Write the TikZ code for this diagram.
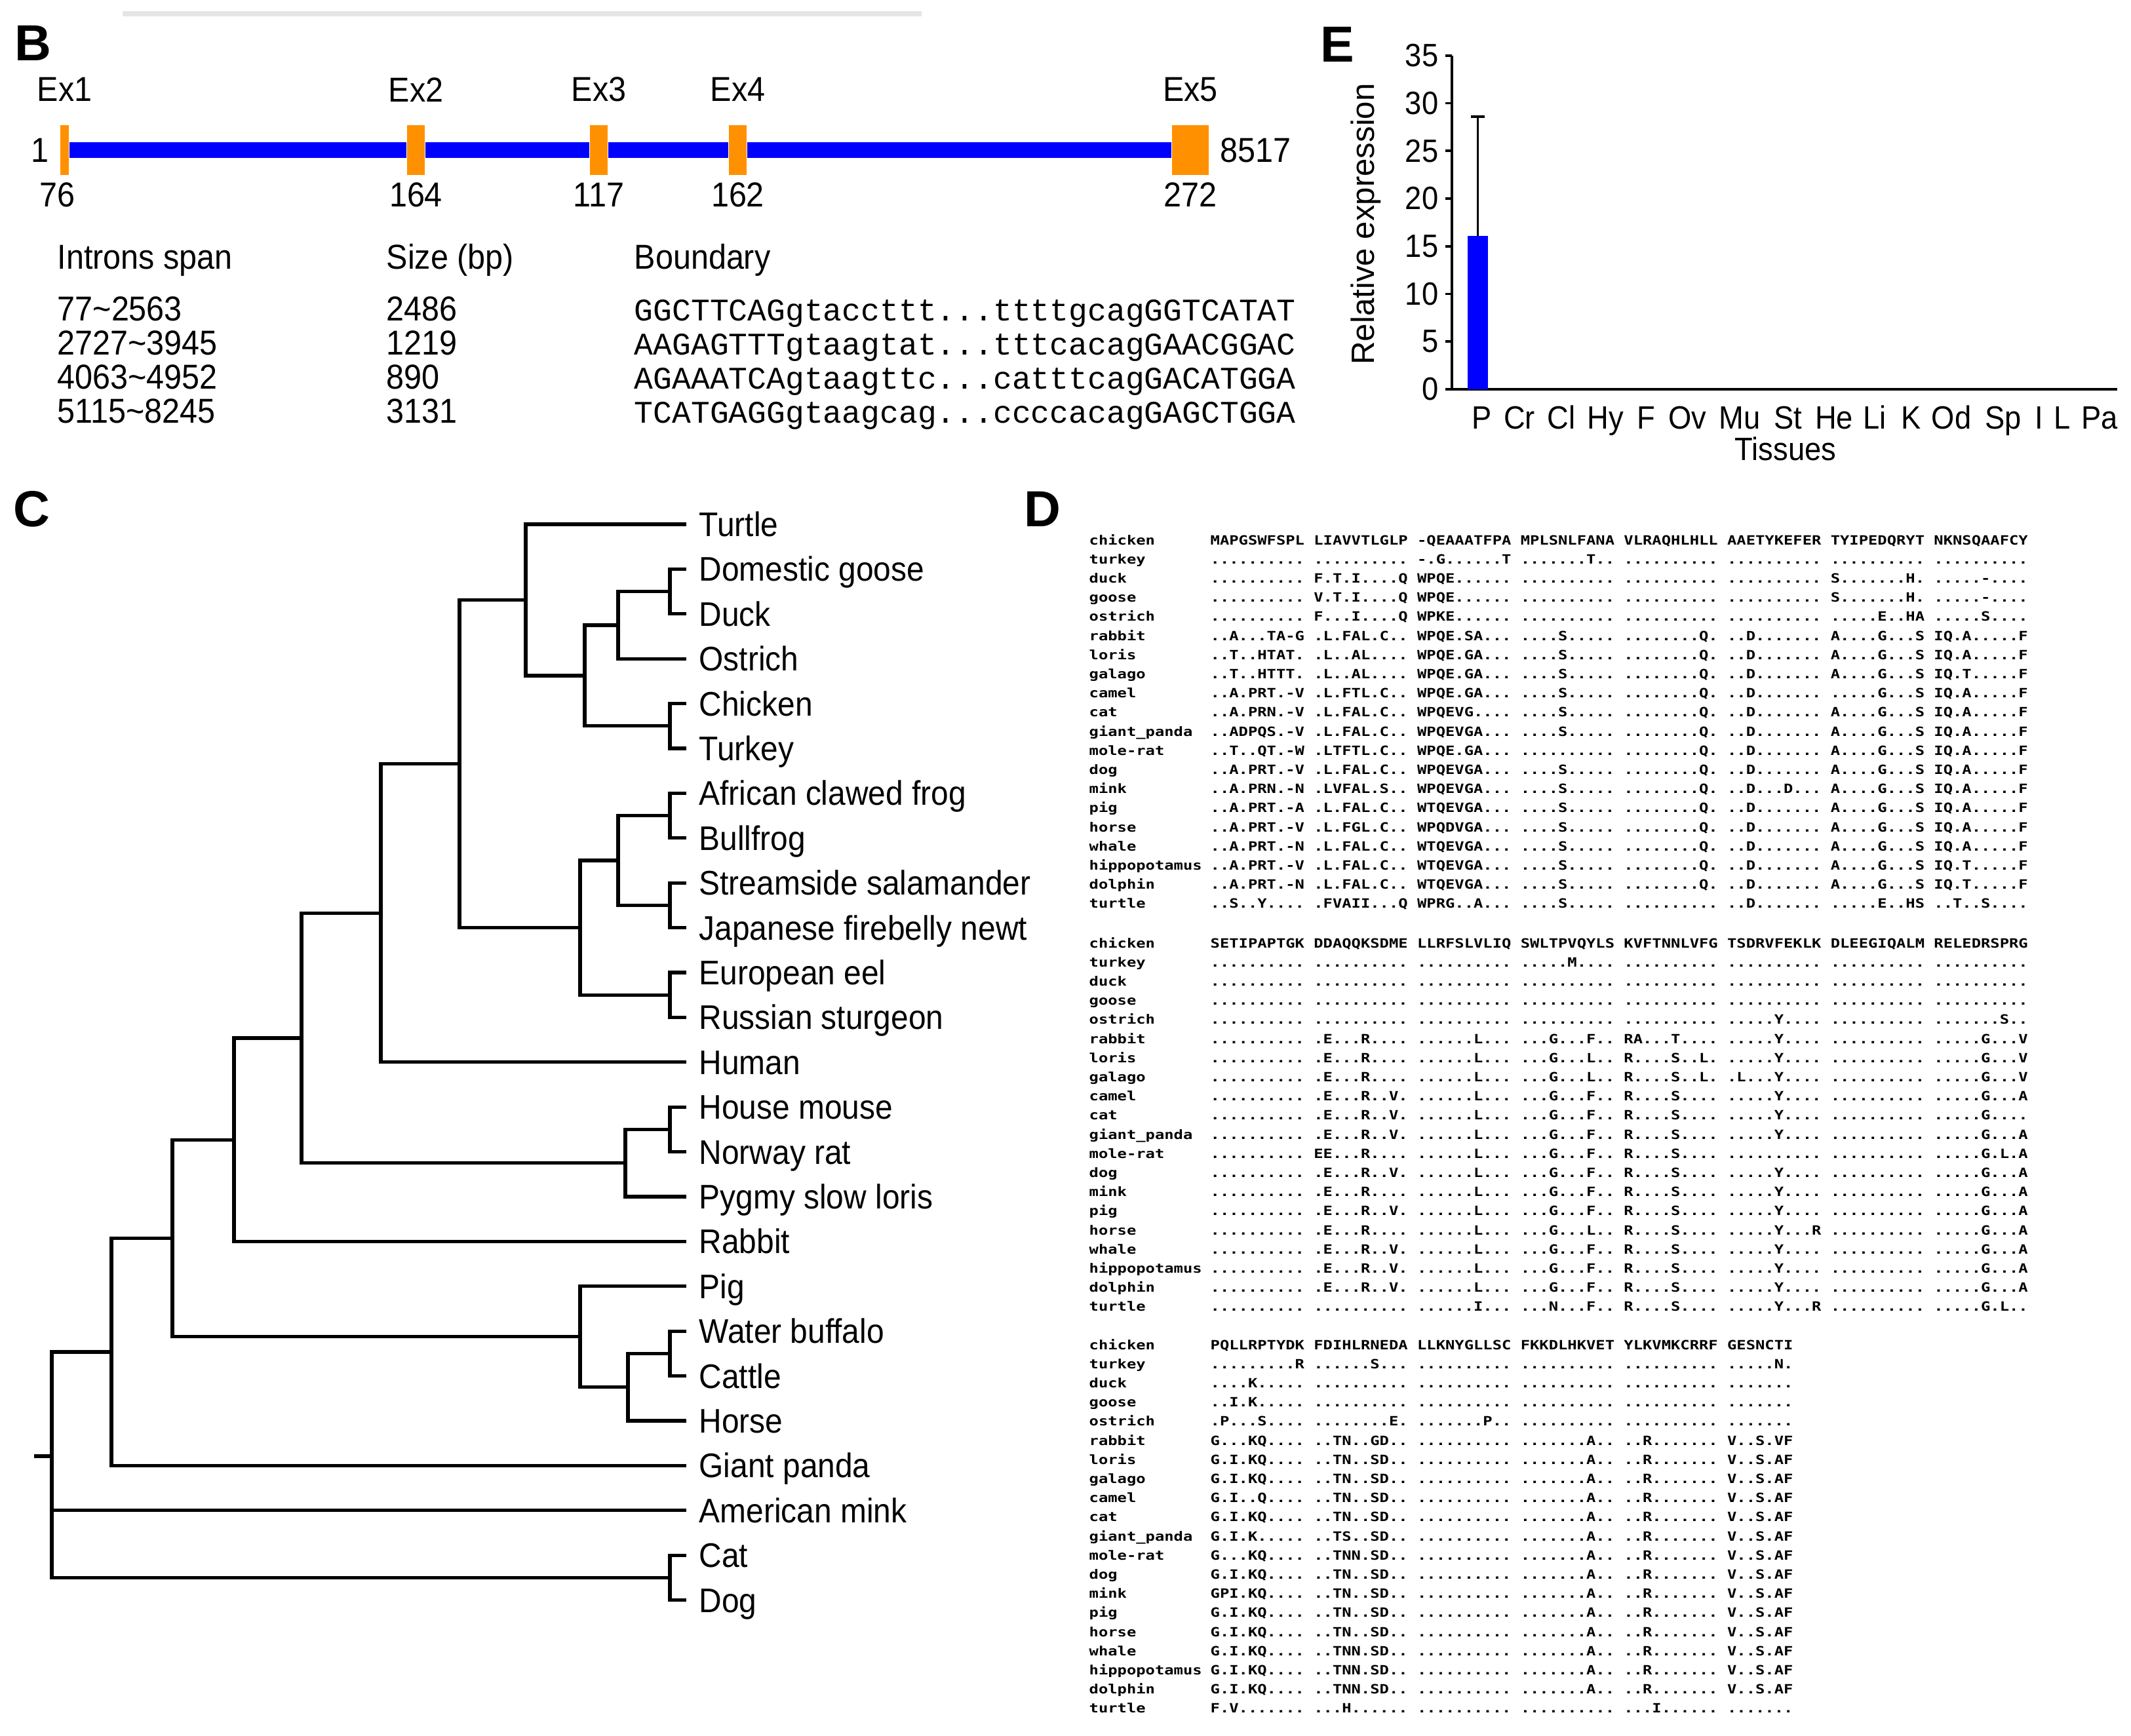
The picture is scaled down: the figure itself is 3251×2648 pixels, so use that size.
\documentclass[tikz,border=0pt]{standalone}
\usepackage{fontspec}
\setmainfont{Liberation Sans}
\newfontfamily\narrowsf[FakeStretch=0.92]{Liberation Sans}
\newfontfamily\courfont{Liberation Mono}
\newfontfamily\alnfont[FakeStretch=1.22]{DejaVu Sans Mono Bold}
\usetikzlibrary{calc}
\definecolor{exorange}{RGB}{255,145,0}
\definecolor{exblue}{RGB}{0,0,255}
\frenchspacing

\begin{document}
\begin{tikzpicture}[x=0.01cm, y=-0.01cm,
panel/.style={font=\bfseries\fontsize{22}{26}\selectfont, inner sep=0},
btxt/.style={font=\narrowsf\fontsize{15}{18}\selectfont, inner sep=0},
bseq/.style={font=\courfont\fontsize{13.66}{16}\selectfont, inner sep=0, anchor=base west},
exon/.style={fill=exorange, inner sep=0, minimum height=0.75cm},
intron/.style={draw=exblue, line width=0.24cm},
leaf/.style={anchor=west, inner xsep=0.19cm, inner ysep=0, text height=0.37cm, text depth=0cm, font=\narrowsf\fontsize{14.8}{17}\selectfont},
branch/.style={line width=1.5pt},
aln/.style={anchor=west, inner sep=0, text height=4pt, text depth=0pt, font=\alnfont\fontsize{5.55}{6}\selectfont\frenchspacing},
axis/.style={line width=1.1pt},
etxt/.style={font=\narrowsf\fontsize{14}{17}\selectfont, inner sep=0}]
	\useasboundingbox (0,0) rectangle (3251,2648);
	\draw[line width=0.08cm, gray!20] (187,21) -- (1406,21);
	\node[panel] (pB) at (50,66) {B};
	\node[panel] (pC) at (48,777) {C};
	\node[panel] (pD) at (1590,777) {D};
	\node[panel] (pE) at (2040,68) {E};

	% gene structure
	\node[exon, minimum width=0.13cm] (ex1) at (98.5,229) {};
	\node[exon, minimum width=0.27cm] (ex2) at (634.5,229) {};
	\node[exon, minimum width=0.27cm] (ex3) at (913.5,229) {};
	\node[exon, minimum width=0.27cm] (ex4) at (1125.5,229) {};
	\node[exon, minimum width=0.56cm] (ex5) at (1816,229) {};
	\draw[intron] (ex1.east) -- (ex2.west);
	\draw[intron] (ex2.east) -- (ex3.west);
	\draw[intron] (ex3.east) -- (ex4.west);
	\draw[intron] (ex4.east) -- (ex5.west);
	\node[btxt] at ([yshift=0.54cm]ex1.north) (lex1) {Ex1};
	\node[btxt] at ([yshift=0.54cm]ex2.north) (lex2) {Ex2};
	\node[btxt] at ([yshift=0.54cm]ex3.north) (lex3) {Ex3};
	\node[btxt] at ([yshift=0.54cm]ex4.north) (lex4) {Ex4};
	\node[btxt] at ([yshift=0.54cm]ex5.north) (lex5) {Ex5};
	\node[btxt] at ([xshift=-0.11cm, yshift=-0.30cm]ex1.south) (len1) {76};
	\node[btxt] at ([yshift=-0.30cm]ex2.south) (len2) {164};
	\node[btxt] at ([yshift=-0.30cm]ex3.south) (len3) {117};
	\node[btxt] at ([yshift=-0.30cm]ex4.south) (len4) {162};
	\node[btxt] at ([yshift=-0.30cm]ex5.south) (len5) {272};
	\node[btxt] at ([xshift=-0.3cm]ex1.west) (gstart) {1};
	\node[btxt, anchor=west] at ([xshift=0.16cm]ex5.east) (gend) {8517};

	\node[btxt, anchor=base west] (hspan) at (87,410) {Introns span};
	\node[btxt, anchor=base west] (hsize) at (589,410) {Size (bp)};
	\node[btxt, anchor=base west] (hbound) at (967,410) {Boundary};
	\foreach \sp/\sz/\bd [count=\r from 0] in {77\textasciitilde 2563/2486/{GGCTTCAGgtaccttt...ttttgcagGGTCATAT},
		2727\textasciitilde 3945/1219/{AAGAGTTTgtaagtat...tttcacagGAACGGAC},
		4063\textasciitilde 4952/890/{AGAAATCAgtaagttc...catttcagGACATGGA},
		5115\textasciitilde 8245/3131/{TCATGAGGgtaagcag...ccccacagGAGCTGGA}}{
		\node[btxt, anchor=base west] (span\r) at (87,{489+52*\r}) {\sp};
		\node[btxt, anchor=base west] (size\r) at (589,{489+52*\r}) {\sz};
		\node[bseq] (bound\r) at (967,{489+52*\r}) {\bd};
	}

	% expression chart
	\draw[axis] (2215,85) -- (2215,594) -- (3230,594);
	\foreach \v in {0,5,10,15,20,25,30,35}{
		\draw[axis] (2205,{594-14.55*\v}) -- (2215,{594-14.55*\v});
		\node[etxt, anchor=east] (yt\v) at (2195,{594-14.55*\v}) {\v};
	}
	\fill[exblue] (2239,594) rectangle (2270,360);
	\draw[axis] (2254.5,360) -- (2254.5,178);
	\draw[axis] (2244,178) -- (2265,178);
	\foreach \lab/\xx [count=\k] in {P/2261, Cr/2318, Cl/2382, Hy/2449, F/2511, Ov/2574, Mu/2654, St/2728, He/2798, Li/2860, K/2916, Od/2977, Sp/3056, I/3111, L/3146, Pa/3203}
		\node[etxt, anchor=base] (tis\k) at (\xx,654) {\lab};
	\node[etxt, anchor=base] (xlab) at (2724,702) {Tissues};
	\node[rotate=90, inner sep=0, font=\fontsize{14}{17}\selectfont] (ylab) at (2084,342) {Relative expression};

	% tree
	\node[leaf] (turtle) at (1047,800) {Turtle};
	\node[leaf] (goose) at (1047,868.4) {Domestic goose};
	\node[leaf] (duck) at (1047,936.8) {Duck};
	\node[leaf] (ostrich) at (1047,1005.2) {Ostrich};
	\node[leaf] (chicken) at (1047,1073.6) {Chicken};
	\node[leaf] (turkey) at (1047,1142) {Turkey};
	\node[leaf] (xenopus) at (1047,1210.4) {African clawed frog};
	\node[leaf] (bullfrog) at (1047,1278.8) {Bullfrog};
	\node[leaf] (salam) at (1047,1347.2) {Streamside salamander};
	\node[leaf] (newt) at (1047,1415.6) {Japanese firebelly newt};
	\node[leaf] (eel) at (1047,1484) {European eel};
	\node[leaf] (sturgeon) at (1047,1552.4) {Russian sturgeon};
	\node[leaf] (human) at (1047,1620.8) {Human};
	\node[leaf] (mouse) at (1047,1689.2) {House mouse};
	\node[leaf] (rat) at (1047,1757.6) {Norway rat};
	\node[leaf] (loris) at (1047,1826) {Pygmy slow loris};
	\node[leaf] (rabbit) at (1047,1894.4) {Rabbit};
	\node[leaf] (pig) at (1047,1962.8) {Pig};
	\node[leaf] (buffalo) at (1047,2031.2) {Water buffalo};
	\node[leaf] (cattle) at (1047,2099.6) {Cattle};
	\node[leaf] (horse) at (1047,2168) {Horse};
	\node[leaf] (panda) at (1047,2236.4) {Giant panda};
	\node[leaf] (mink) at (1047,2304.8) {American mink};
	\node[leaf] (cat) at (1047,2373.2) {Cat};
	\node[leaf] (dog) at (1047,2441.6) {Dog};
	\coordinate (gooseduck) at (1022,902.6);
	\coordinate (anser) at (943,953.9);
	\coordinate (galli) at (1022,1107.8);
	\coordinate (galanser) at (892,1030.85);
	\coordinate (rept) at (802,915.4);
	\coordinate (frogs) at (1022,1244.6);
	\coordinate (newts) at (1022,1381.4);
	\coordinate (amph) at (943,1313);
	\coordinate (fish) at (1022,1518.2);
	\coordinate (fishamph) at (885,1415.6);
	\coordinate (nonmam) at (701,1165.5);
	\coordinate (homo) at (581,1393.2);
	\coordinate (rodent) at (1022,1723.4);
	\coordinate (glires) at (954,1774.7);
	\coordinate (primgrp) at (460,1584);
	\coordinate (lago) at (357,1739.2);
	\coordinate (bovid) at (1022,2065.4);
	\coordinate (ungul) at (958,2116.7);
	\coordinate (suid) at (885,2039.8);
	\coordinate (eutA) at (263,1889.5);
	\coordinate (eutB) at (170,2063);
	\coordinate (carn) at (1022,2407.4);
	\coordinate (root) at (79,2222);
	\coordinate (rootstub) at (52,2222);
	\draw[branch] (gooseduck) |- (goose.west);
	\draw[branch] (gooseduck) |- (duck.west);
	\draw[branch] (anser) |- (gooseduck);
	\draw[branch] (anser) |- (ostrich.west);
	\draw[branch] (galli) |- (chicken.west);
	\draw[branch] (galli) |- (turkey.west);
	\draw[branch] (galanser) |- (anser);
	\draw[branch] (galanser) |- (galli);
	\draw[branch] (rept) |- (turtle.west);
	\draw[branch] (rept) |- (galanser);
	\draw[branch] (frogs) |- (xenopus.west);
	\draw[branch] (frogs) |- (bullfrog.west);
	\draw[branch] (newts) |- (salam.west);
	\draw[branch] (newts) |- (newt.west);
	\draw[branch] (amph) |- (frogs);
	\draw[branch] (amph) |- (newts);
	\draw[branch] (fish) |- (eel.west);
	\draw[branch] (fish) |- (sturgeon.west);
	\draw[branch] (fishamph) |- (amph);
	\draw[branch] (fishamph) |- (fish);
	\draw[branch] (nonmam) |- (rept);
	\draw[branch] (nonmam) |- (fishamph);
	\draw[branch] (homo) |- (nonmam);
	\draw[branch] (homo) |- (human.west);
	\draw[branch] (rodent) |- (mouse.west);
	\draw[branch] (rodent) |- (rat.west);
	\draw[branch] (glires) |- (rodent);
	\draw[branch] (glires) |- (loris.west);
	\draw[branch] (primgrp) |- (homo);
	\draw[branch] (primgrp) |- (glires);
	\draw[branch] (lago) |- (primgrp);
	\draw[branch] (lago) |- (rabbit.west);
	\draw[branch] (bovid) |- (buffalo.west);
	\draw[branch] (bovid) |- (cattle.west);
	\draw[branch] (ungul) |- (bovid);
	\draw[branch] (ungul) |- (horse.west);
	\draw[branch] (suid) |- (pig.west);
	\draw[branch] (suid) |- (ungul);
	\draw[branch] (eutA) |- (lago);
	\draw[branch] (eutA) |- (suid);
	\draw[branch] (eutB) |- (eutA);
	\draw[branch] (eutB) |- (panda.west);
	\draw[branch] (carn) |- (cat.west);
	\draw[branch] (carn) |- (dog.west);
	\draw[branch] (root) |- (eutB);
	\draw[branch] (root) |- (mink.west);
	\draw[branch] (root) |- (carn);
	\draw[branch] (rootstub) -- (root);

	% alignment
	\foreach \nm/\sq [count=\i from 0] in {chicken/{MAPGSWFSPL LIAVVTLGLP -QEAAATFPA MPLSNLFANA VLRAQHLHLL AAETYKEFER TYIPEDQRYT NKNSQAAFCY},
		turkey/{.......... .......... -.G......T .......T.. .......... .......... .......... ..........},
		duck/{.......... F.T.I....Q WPQE...... .......... .......... .......... S.......H. .....-....},
		goose/{.......... V.T.I....Q WPQE...... .......... .......... .......... S.......H. .....-....},
		ostrich/{.......... F...I....Q WPKE...... .......... .......... .......... .....E..HA .....S....},
		rabbit/{..A...TA-G .L.FAL.C.. WPQE.SA... ....S..... ........Q. ..D....... A....G...S IQ.A.....F},
		loris/{..T..HTAT. .L..AL.... WPQE.GA... ....S..... ........Q. ..D....... A....G...S IQ.A.....F},
		galago/{..T..HTTT. .L..AL.... WPQE.GA... ....S..... ........Q. ..D....... A....G...S IQ.T.....F},
		camel/{..A.PRT.-V .L.FTL.C.. WPQE.GA... ....S..... ........Q. ..D....... .....G...S IQ.A.....F},
		cat/{..A.PRN.-V .L.FAL.C.. WPQEVG.... ....S..... ........Q. ..D....... A....G...S IQ.A.....F},
		giant\_panda/{..ADPQS.-V .L.FAL.C.. WPQEVGA... ....S..... ........Q. ..D....... A....G...S IQ.A.....F},
		mole-rat/{..T..QT.-W .LTFTL.C.. WPQE.GA... .......... ........Q. ..D....... A....G...S IQ.A.....F},
		dog/{..A.PRT.-V .L.FAL.C.. WPQEVGA... ....S..... ........Q. ..D....... A....G...S IQ.A.....F},
		mink/{..A.PRN.-N .LVFAL.S.. WPQEVGA... ....S..... ........Q. ..D...D... A....G...S IQ.A.....F},
		pig/{..A.PRT.-A .L.FAL.C.. WTQEVGA... ....S..... ........Q. ..D....... A....G...S IQ.A.....F},
		horse/{..A.PRT.-V .L.FGL.C.. WPQDVGA... ....S..... ........Q. ..D....... A....G...S IQ.A.....F},
		whale/{..A.PRT.-N .L.FAL.C.. WTQEVGA... ....S..... ........Q. ..D....... A....G...S IQ.A.....F},
		hippopotamus/{..A.PRT.-V .L.FAL.C.. WTQEVGA... ....S..... ........Q. ..D....... A....G...S IQ.T.....F},
		dolphin/{..A.PRT.-N .L.FAL.C.. WTQEVGA... ....S..... ........Q. ..D....... A....G...S IQ.T.....F},
		turtle/{..S..Y.... .FVAII...Q WPRG..A... ....S..... .......... ..D....... .....E..HS ..T..S....}}{
		\node[aln] (nA\i) at (1661,{824+29.2*\i}) {\nm};
		\node[aln] (sA\i) at (1846,{824+29.2*\i}) {\sq};
	}
	\foreach \nm/\sq [count=\i from 0] in {chicken/{SETIPAPTGK DDAQQKSDME LLRFSLVLIQ SWLTPVQYLS KVFTNNLVFG TSDRVFEKLK DLEEGIQALM RELEDRSPRG},
		turkey/{.......... .......... .......... .....M.... .......... .......... .......... ..........},
		duck/{.......... .......... .......... .......... .......... .......... .......... ..........},
		goose/{.......... .......... .......... .......... .......... .......... .......... ..........},
		ostrich/{.......... .......... .......... .......... .......... .....Y.... .......... .......S..},
		rabbit/{.......... .E...R.... ......L... ...G...F.. RA...T.... .....Y.... .......... .....G...V},
		loris/{.......... .E...R.... ......L... ...G...L.. R....S..L. .....Y.... .......... .....G...V},
		galago/{.......... .E...R.... ......L... ...G...L.. R....S..L. .L...Y.... .......... .....G...V},
		camel/{.......... .E...R..V. ......L... ...G...F.. R....S.... .....Y.... .......... .....G...A},
		cat/{.......... .E...R..V. ......L... ...G...F.. R....S.... .....Y.... .......... .....G....},
		giant\_panda/{.......... .E...R..V. ......L... ...G...F.. R....S.... .....Y.... .......... .....G...A},
		mole-rat/{.......... EE...R.... ......L... ...G...F.. R....S.... .......... .......... .....G.L.A},
		dog/{.......... .E...R..V. ......L... ...G...F.. R....S.... .....Y.... .......... .....G...A},
		mink/{.......... .E...R.... ......L... ...G...F.. R....S.... .....Y.... .......... .....G...A},
		pig/{.......... .E...R..V. ......L... ...G...F.. R....S.... .....Y.... .......... .....G...A},
		horse/{.......... .E...R.... ......L... ...G...L.. R....S.... .....Y...R .......... .....G...A},
		whale/{.......... .E...R..V. ......L... ...G...F.. R....S.... .....Y.... .......... .....G...A},
		hippopotamus/{.......... .E...R..V. ......L... ...G...F.. R....S.... .....Y.... .......... .....G...A},
		dolphin/{.......... .E...R..V. ......L... ...G...F.. R....S.... .....Y.... .......... .....G...A},
		turtle/{.......... .......... ......I... ...N...F.. R....S.... .....Y...R .......... .....G.L..}}{
		\node[aln] (nB\i) at (1661,{1439+29.2*\i}) {\nm};
		\node[aln] (sB\i) at (1846,{1439+29.2*\i}) {\sq};
	}
	\foreach \nm/\sq [count=\i from 0] in {chicken/{PQLLRPTYDK FDIHLRNEDA LLKNYGLLSC FKKDLHKVET YLKVMKCRRF GESNCTI},
		turkey/{.........R ......S... .......... .......... .......... .....N.},
		duck/{....K..... .......... .......... .......... .......... .......},
		goose/{..I.K..... .......... .......... .......... .......... .......},
		ostrich/{.P...S.... ........E. .......P.. .......... .......... .......},
		rabbit/{G...KQ.... ..TN..GD.. .......... .......A.. ..R....... V..S.VF},
		loris/{G.I.KQ.... ..TN..SD.. .......... .......A.. ..R....... V..S.AF},
		galago/{G.I.KQ.... ..TN..SD.. .......... .......A.. ..R....... V..S.AF},
		camel/{G.I..Q.... ..TN..SD.. .......... .......A.. ..R....... V..S.AF},
		cat/{G.I.KQ.... ..TN..SD.. .......... .......A.. ..R....... V..S.AF},
		giant\_panda/{G.I.K..... ..TS..SD.. .......... .......A.. ..R....... V..S.AF},
		mole-rat/{G...KQ.... ..TNN.SD.. .......... .......A.. ..R....... V..S.AF},
		dog/{G.I.KQ.... ..TN..SD.. .......... .......A.. ..R....... V..S.AF},
		mink/{GPI.KQ.... ..TN..SD.. .......... .......A.. ..R....... V..S.AF},
		pig/{G.I.KQ.... ..TN..SD.. .......... .......A.. ..R....... V..S.AF},
		horse/{G.I.KQ.... ..TN..SD.. .......... .......A.. ..R....... V..S.AF},
		whale/{G.I.KQ.... ..TNN.SD.. .......... .......A.. ..R....... V..S.AF},
		hippopotamus/{G.I.KQ.... ..TNN.SD.. .......... .......A.. ..R....... V..S.AF},
		dolphin/{G.I.KQ.... ..TNN.SD.. .......... .......A.. ..R....... V..S.AF},
		turtle/{F.V....... ...H...... .......... .......... ...I...... .......}}{
		\node[aln] (nC\i) at (1661,{2052+29.2*\i}) {\nm};
		\node[aln] (sC\i) at (1846,{2052+29.2*\i}) {\sq};
	}
\end{tikzpicture}
\end{document}
